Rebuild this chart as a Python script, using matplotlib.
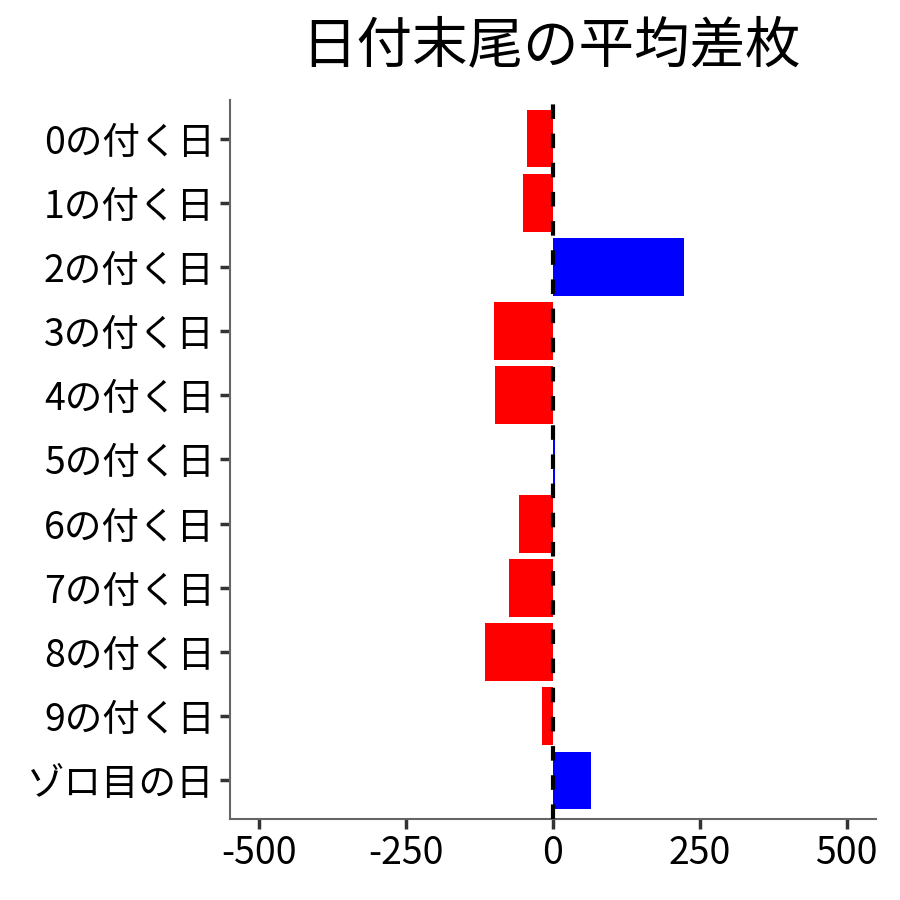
import matplotlib
matplotlib.use("Agg")
import matplotlib.pyplot as plt

plt.rcParams['font.family'] = ['Noto Sans CJK JP', 'DejaVu Sans']

categories = ["0の付く日", "1の付く日", "2の付く日", "3の付く日", "4の付く日",
              "5の付く日", "6の付く日", "7の付く日", "8の付く日", "9の付く日", "ゾロ目の日"]
values = [-44, -51, 223, -100, -99, 3, -58, -75, -116, -19, 65]
xticks = [-500, -250, 0, 250, 500]
xticklabels = ["-500", "-250", "0", "250", "500"]
title = "日付末尾の平均差枚"

fig = plt.figure(figsize=(9, 9), dpi=100)
ax = fig.add_axes([0.2556, 0.09, 0.7177, 0.7989])

colors = ["blue" if v > 0 else "red" for v in values]
ypos = list(range(len(categories)))
ax.barh(ypos, values, height=0.9, color=colors, zorder=2)
ax.axvline(0, color="black", linestyle=(0, (3.5, 3.5)), linewidth=3, zorder=3)

ax.set_xlim(-550, 550)
ax.set_ylim(10.6, -0.6)
ax.set_yticks(ypos)
ax.set_yticklabels(categories, fontsize=27)
ax.set_xticks(xticks)
ax.set_xticklabels(xticklabels, fontsize=27)
ax.tick_params(axis="both", length=7, width=2.5, color="#333333", labelcolor="black", pad=4)

for s in ["top", "right"]:
    ax.spines[s].set_visible(False)
for s in ["left", "bottom"]:
    ax.spines[s].set_color("#666666")
    ax.spines[s].set_linewidth(1.5)

fig.text(0.612, 0.948, title, fontsize=40, ha="center", va="center")

fig.savefig("out.png", dpi=100, facecolor="white")
